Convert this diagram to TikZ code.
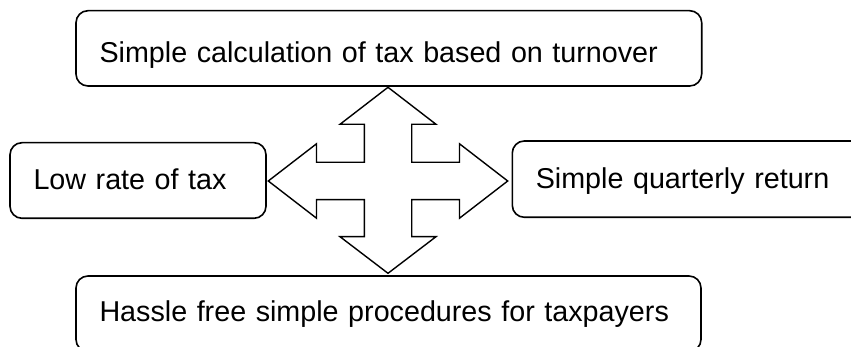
\documentclass[tikz,border=0pt]{standalone}
\usepackage{fontspec}
\setmainfont{Liberation Sans}
\begin{document}
\begin{tikzpicture}[x=1pt,y=1pt,thick,
  box/.style={draw,rounded corners=12pt,line width=1.6pt,inner xsep=23.5pt,align=left,text depth=0pt,
    font=\fontsize{28.7pt}{34pt}\selectfont},
  quadarrow/.style={draw,line width=1.4pt,fill=white,line join=miter}]

\useasboundingbox (0,0) rectangle (851,347);

\begin{scope}[every node/.style={box}]
  \node[text width=578.7pt,minimum height=75.3pt,text height=28.8pt] (calc) at (388.85,298.65) {\mbox{Simple calculation of tax based on turnover}};
  \node[text width=209pt,minimum height=75.6pt,text height=17.9pt] (rate) at (138,166.5) {\mbox{Low rate of tax}};
  \node[text width=313pt,minimum height=76.3pt,text height=18.8pt] (ret) at (692.3,167.85) {\mbox{Simple quarterly return}};
  \node[text width=578pt,minimum height=75.5pt,text height=15.6pt] (proc) at (388.5,33.25) {\mbox{Hassle free simple procedures for taxpayers}};
\end{scope}
\coordinate (hub) at (388,166);

\begin{scope}[shift={(hub)}]
  \path[quadarrow] (0,93.7) -- (48,56.7) -- (23.7,56.7) -- (23.7,18.7) -- (71.5,18.7) -- (71.5,37.2)
    -- (119.7,0) -- (71.5,-37.2) -- (71.5,-18.7) -- (23.7,-18.7) -- (23.7,-55.7) -- (48,-55.7)
    -- (0,-92.3) -- (-48,-55.7) -- (-23.7,-55.7) -- (-23.7,-18.7) -- (-71.5,-18.7) -- (-71.5,-37.2)
    -- (-119.7,0) -- (-71.5,37.2) -- (-71.5,18.7) -- (-23.7,18.7) -- (-23.7,56.7) -- (-48,56.7) -- cycle;
\end{scope}

\end{tikzpicture}
\end{document}
